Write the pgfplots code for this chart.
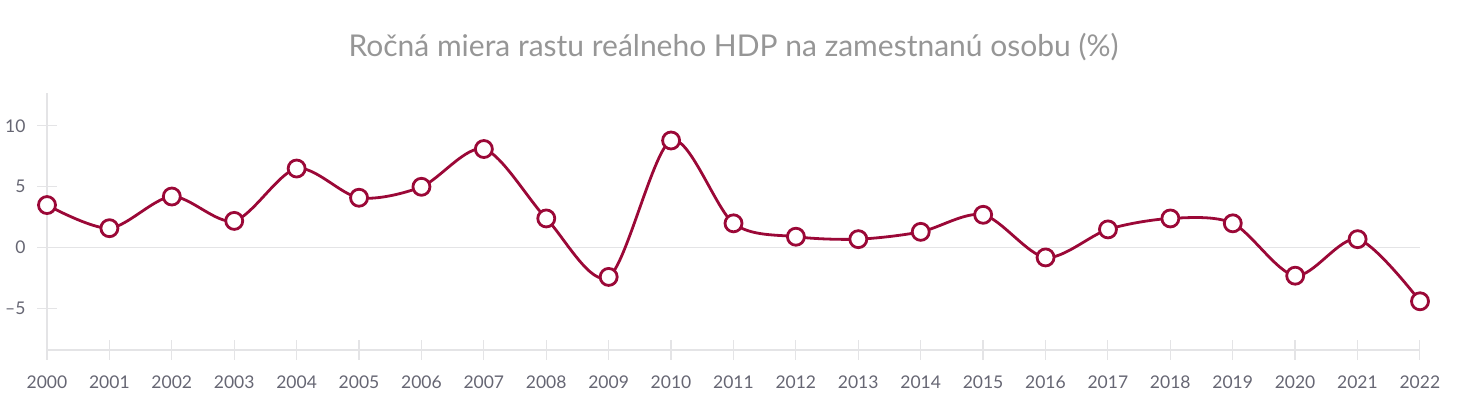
\documentclass[border=0pt]{standalone}
\usepackage{fontspec}
\setmainfont{Lato}
\usepackage{pgfplots}
\pgfplotsset{compat=1.18}
\usetikzlibrary{calc}
\definecolor{linered}{RGB}{155,8,55}
\definecolor{axgray}{RGB}{228,228,230}
\definecolor{ticklab}{RGB}{102,102,115}
\definecolor{titlegray}{RGB}{150,150,150}
\begin{document}
\begin{tikzpicture}
\begin{axis}[
  name=ax,
  scale only axis,
  width=1373pt, height=257pt,
  xmin=2000, xmax=2022,
  ymin=-8.4, ymax=12.7,
  axis lines=left,
  axis line style={axgray, line width=1.8pt, -},
  xtick={2000,...,2022},
  xticklabels={2000,2001,2002,2003,2004,2005,2006,2007,2008,2009,2010,2011,2012,2013,2014,2015,2016,2017,2018,2019,2020,2021,2022},
  ytick={-5,0,5,10},
  yticklabels={–5,0,5,10},
  tick align=center,
  major tick length=20pt,
  tick style={axgray, line width=1.2pt},
  ticklabel style={font=\fontsize{17.5}{20}\selectfont, text=ticklab},
  xticklabel style={yshift=-12pt},
  yticklabel style={xshift=-8pt},
  clip=false,
]
\draw[axgray, line width=1.2pt] (axis cs:2000,0) -- (axis cs:2022,0);
\addplot[linered, line width=2.8pt, smooth, tension=0.5,
  mark=*, mark size=8.5pt, mark options={fill=white, draw=linered, line width=2.8pt}]
coordinates {
(2000,3.5) (2001,1.6) (2002,4.2) (2003,2.2) (2004,6.5) (2005,4.1) (2006,5.0)
(2007,8.1) (2008,2.4) (2009,-2.4) (2010,8.8) (2011,2.0) (2012,0.9) (2013,0.7)
(2014,1.3) (2015,2.7) (2016,-0.8) (2017,1.5) (2018,2.4) (2019,2.0) (2020,-2.3)
(2021,0.7) (2022,-4.4)};
\end{axis}
\path ($(ax.south west)+(-47pt,-42pt)$) rectangle ($(ax.north east)+(42pt,93pt)$);
\node[text=titlegray, font=\fontsize{30}{36}\selectfont] at ($(ax.north west)!0.5!(ax.north east)+(0,46pt)$) {Ročná miera rastu reálneho HDP na zamestnanú osobu (\%)};
\end{tikzpicture}
\end{document}
